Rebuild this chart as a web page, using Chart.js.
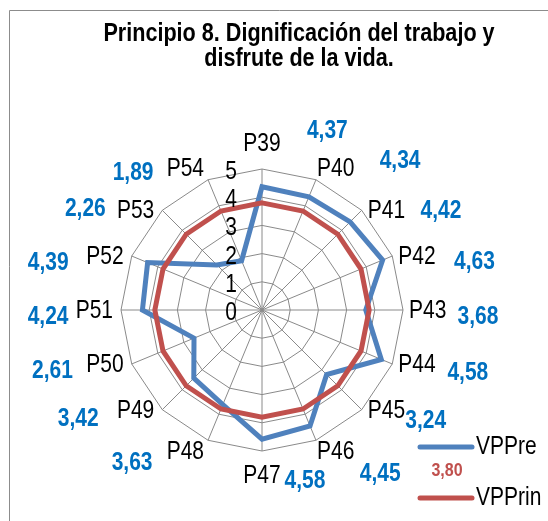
<!DOCTYPE html>
<html>
<head>
<meta charset="utf-8">
<script src="https://cdn.jsdelivr.net/npm/chart.js@4/dist/chart.umd.min.js"></script>
<style>
  html, body { margin: 0; padding: 0; background: #ffffff; }
  canvas { display: block; }
</style>
</head>
<body>
<canvas id="c" width="548" height="521"></canvas>
<script>
// ---- data ----
const categories = ['P39','P40','P41','P42','P43','P44','P45','P46','P47','P48','P49','P50','P51','P52','P53','P54'];
const vpPre   = [4.37, 4.34, 4.42, 4.63, 3.68, 4.58, 3.24, 4.45, 4.58, 3.63, 3.42, 2.61, 4.24, 4.39, 2.26, 1.89];
const vpPrin  = [3.80, 3.80, 3.80, 3.80, 3.80, 3.80, 3.80, 3.80, 3.80, 3.80, 3.80, 3.80, 3.80, 3.80, 3.80, 3.80];
const tickValues = [0, 1, 2, 3, 4, 5];
const seriesNames = ['VPPre', 'VPPrin'];
const titleLines = ['Principio 8. Dignificación del trabajo y', 'disfrute de la vida.'];

const fmt = v => v.toFixed(2).replace('.', ',');
const FONT = '"Liberation Sans", Arial, sans-serif';
const SY = 1.2; // vertical stretch of the text glyphs

function txt(ctx, s, x, y, align, base) {
  ctx.save();
  ctx.translate(x, y);
  ctx.scale(1, SY);
  ctx.textAlign = align;
  ctx.textBaseline = base;
  ctx.fillText(s, 0, 0);
  ctx.restore();
}

const decor = {
  id: 'decor',
  beforeDraw(chart) {
    const ctx = chart.ctx;
    ctx.save();
    ctx.fillStyle = '#ffffff';
    ctx.fillRect(0, 0, chart.width, chart.height);
    ctx.strokeStyle = '#8c8c8c';
    ctx.lineWidth = 1;
    ctx.beginPath();
    ctx.moveTo(9.5, chart.height + 2);
    ctx.lineTo(9.5, 10.5);
    ctx.lineTo(chart.width + 2, 10.5);
    ctx.stroke();
    ctx.restore();
  },
  afterDraw(chart) {
    const ctx = chart.ctx;
    const s = chart.scales.r;
    const R = s.drawingArea;
    ctx.save();
    // title
    ctx.fillStyle = '#000000';
    ctx.font = 'bold 21.6px ' + FONT;
    txt(ctx, titleLines[0], 299, 41, 'center', 'alphabetic');
    txt(ctx, titleLines[1], 299, 66, 'center', 'alphabetic');

    // tick labels
    ctx.font = '21px ' + FONT;
    tickValues.forEach(v => {
      const d = s.getDistanceFromCenterForValue(v);
      txt(ctx, String(v), s.xCenter - 31, s.yCenter - d + 3, 'center', 'middle');
    });

    // point labels
    const n = categories.length;
    categories.forEach((lab, i) => {
      const a = i * 360 / n;
      const p = s.getPointPosition(i, R);
      let x = p.x, y = p.y, align, base;
      if (a === 0) { align = 'center'; base = 'bottom'; y -= 12; }
      else if (a === 180) { align = 'center'; base = 'top'; y += 12; }
      else {
        const right = a < 180;
        const aa = right ? a : 360 - a;
        align = right ? 'left' : 'right';
        if (aa < 40) { base = 'bottom'; x += right ? 1 : -4; y += 2; }
        else if (aa > 140) { base = 'top'; x += right ? 1 : -4; y -= 1; }
        else { base = 'middle'; x += right ? 6 : -8; y += 1; }
      }
      txt(ctx, lab, x, y, align, base);
    });

    // value labels for VPPre (polar offsets: angle deg from top, radius px)
    const vpos = [[20,191],[42.6,204],[60.8,205],[77,218],[91.6,216],[106.8,215],[123.8,197],[144,201],
                  [165.8,175],[220.5,200],[239.6,213],[254,218],[268.4,214],[282.6,219],[300,204],[317,189]];
    ctx.font = 'bold 21px ' + FONT;
    ctx.fillStyle = '#0070C0';
    for (let i = 0; i < vpPre.length; i++) {
      const [ang, rad] = vpos[i];
      const t = ang * Math.PI / 180;
      txt(ctx, fmt(vpPre[i]), s.xCenter + rad * Math.sin(t), s.yCenter - rad * Math.cos(t) + 1, 'center', 'middle');
    }

    // legend
    const items = [
      { name: seriesNames[0], color: '#4F81BD', y: 447 },
      { name: seriesNames[1], color: '#C0504D', y: 498 }
    ];
    ctx.lineCap = 'round';
    ctx.lineWidth = 5;
    items.forEach(it => {
      ctx.strokeStyle = it.color;
      ctx.beginPath();
      ctx.moveTo(420, it.y);
      ctx.lineTo(472, it.y);
      ctx.stroke();
      ctx.fillStyle = '#000000';
      ctx.font = '21px ' + FONT;
      txt(ctx, it.name, 476, it.y, 'left', 'middle');
    });
    // single value label of VPPrin
    ctx.font = 'bold 16px ' + FONT;
    ctx.fillStyle = '#C0504D';
    txt(ctx, fmt(vpPrin[0]), 447, 471, 'center', 'middle');
    ctx.restore();
  }
};

new Chart(document.getElementById('c'), {
  type: 'radar',
  data: {
    labels: categories,
    datasets: [
      { label: seriesNames[0], data: vpPre, borderColor: '#4F81BD', backgroundColor: 'transparent',
        borderWidth: 5, pointRadius: 0, pointHoverRadius: 0, fill: false, order: 2, borderJoinStyle: 'miter' },
      { label: seriesNames[1], data: vpPrin, borderColor: '#C0504D', backgroundColor: 'transparent',
        borderWidth: 5, pointRadius: 0, pointHoverRadius: 0, fill: false, order: 1, borderJoinStyle: 'miter' }
    ]
  },
  options: {
    responsive: false,
    animation: false,
    layout: { padding: { left: 121, right: 145, top: 169, bottom: 70 } },
    plugins: { legend: { display: false }, title: { display: false }, tooltip: { enabled: false } },
    elements: { line: { tension: 0 } },
    scales: {
      r: {
        min: 0, max: 5,
        ticks: { stepSize: 1, display: false },
        grid: { circular: false, color: '#8a8a8a', lineWidth: 1 },
        angleLines: { display: true, color: '#8a8a8a', lineWidth: 1 },
        pointLabels: { display: false }
      }
    }
  },
  plugins: [decor]
});
</script>
</body>
</html>
